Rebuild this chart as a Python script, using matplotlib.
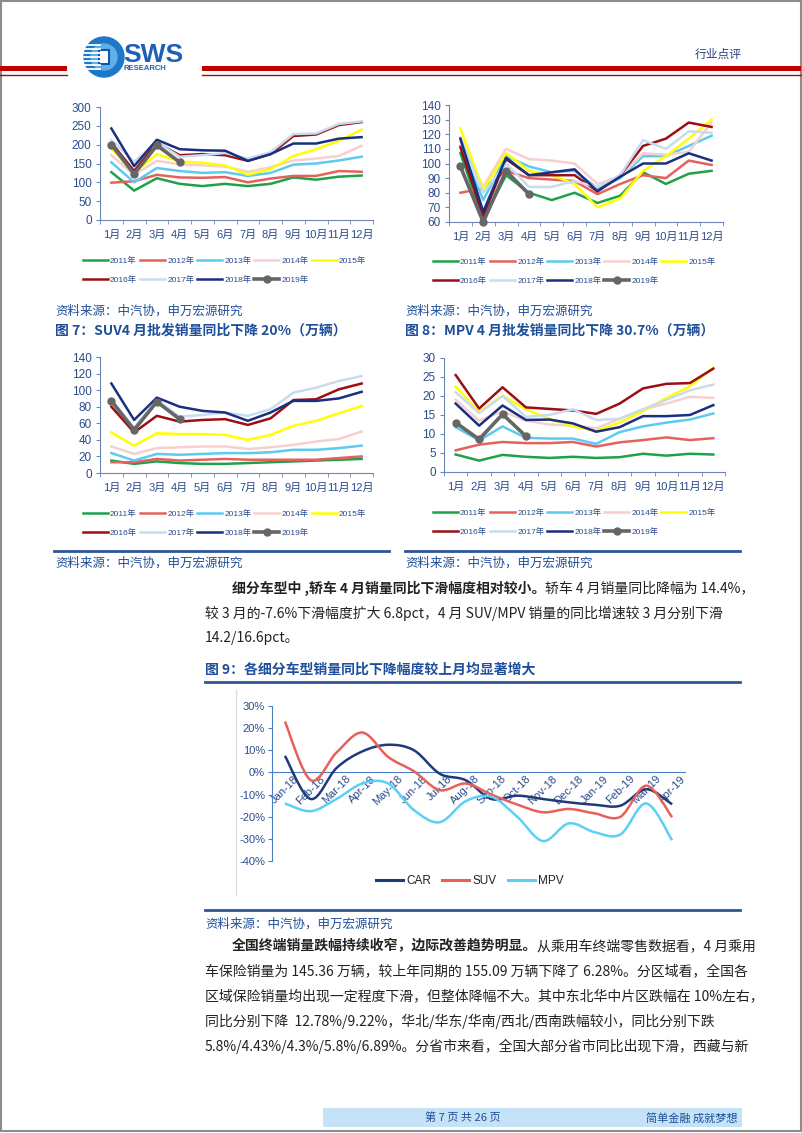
import matplotlib
matplotlib.use("Agg")
import matplotlib.pyplot as plt
import numpy as np
from matplotlib.lines import Line2D
from matplotlib.patches import Rectangle, Circle, PathPatch
from matplotlib.path import Path

W, H = 802, 1133
plt.rcParams['font.family'] = ['Liberation Sans', 'Noto Sans CJK SC', 'DejaVu Sans']
CJK = ['Noto Sans CJK SC', 'DejaVu Sans']

months = ['1月', '2月', '3月', '4月', '5月', '6月', '7月', '8月', '9月', '10月', '11月', '12月']
years = ['2011年', '2012年', '2013年', '2014年', '2015年', '2016年', '2017年', '2018年', '2019年']
year_colors = ['#1FA14A', '#E4615D', '#5DCBF0', '#F6CFCF', '#FFFF00',
               '#9B0E14', '#C9DCEF', '#1A2F80', '#666666']

# passenger vehicles (top left), 万辆
pv_2011 = [127, 78, 111, 96, 90, 96, 90, 96, 113, 107, 115, 118]
pv_2012 = [99, 103, 120, 113, 112, 114, 100, 110, 117, 117, 130, 128]
pv_2013 = [153, 100, 138, 130, 125, 127, 117, 125, 147, 150, 158, 168]
pv_2014 = [172, 120, 157, 148, 145, 142, 128, 140, 158, 163, 170, 197]
pv_2015 = [190, 125, 175, 155, 152, 145, 120, 135, 170, 188, 210, 240]
pv_2016 = [205, 130, 205, 172, 175, 172, 157, 175, 223, 227, 252, 260]
pv_2017 = [212, 155, 207, 168, 172, 178, 163, 180, 228, 230, 255, 262]
pv_2018 = [243, 143, 213, 188, 185, 184, 157, 175, 203, 203, 216, 220]
pv_2019 = [200, 122, 198, 154]

# sedans (top right)
sedan_2011 = [107, 62, 92, 80, 75, 80, 73, 78, 94, 86, 93, 95]
sedan_2012 = [80, 83, 95, 90, 89, 88, 79, 86, 92, 90, 102, 99]
sedan_2013 = [112, 75, 105, 98, 94, 95, 83, 90, 105, 105, 112, 119]
sedan_2014 = [115, 84, 110, 103, 102, 100, 86, 91, 107, 106, 108, 128]
sedan_2015 = [124, 82, 107, 95, 92, 86, 70, 76, 95, 105, 117, 130]
sedan_2016 = [111, 64, 103, 92, 92, 92, 81, 92, 112, 117, 128, 125]
sedan_2017 = [118, 80, 100, 84, 84, 88, 84, 92, 116, 110, 122, 121]
sedan_2018 = [117, 67, 104, 92, 94, 96, 81, 91, 100, 100, 107, 102]
sedan_2019 = [98, 60, 95, 79]

# SUV (fig 7)
suv_2011 = [15, 11, 14, 12, 11, 11, 12, 13, 14, 15, 16, 17]
suv_2012 = [13, 13, 17, 15, 16, 17, 16, 16, 16, 16, 18, 20]
suv_2013 = [24, 15, 23, 22, 23, 24, 24, 25, 28, 28, 30, 33]
suv_2014 = [32, 23, 30, 31, 32, 32, 29, 31, 34, 38, 41, 50]
suv_2015 = [49, 33, 48, 47, 47, 46, 40, 46, 57, 63, 72, 81]
suv_2016 = [80, 49, 69, 62, 64, 65, 58, 66, 88, 89, 101, 108]
suv_2017 = [88, 55, 88, 68, 70, 73, 69, 77, 97, 103, 111, 117]
suv_2018 = [108, 64, 91, 80, 75, 73, 63, 73, 87, 87, 90, 98]
suv_2019 = [87, 52, 86, 65]

# MPV (fig 8)
mpv_2011 = [4.6, 3.0, 4.5, 4.0, 3.7, 4.0, 3.7, 3.9, 4.8, 4.3, 4.8, 4.6]
mpv_2012 = [5.7, 7.2, 7.9, 7.6, 7.6, 7.9, 6.7, 7.8, 8.4, 9.1, 8.4, 8.9]
mpv_2013 = [11.8, 8.3, 12.0, 9.0, 8.8, 8.8, 7.4, 10.5, 12.0, 13.0, 13.8, 15.4]
mpv_2014 = [19.0, 13.5, 16.0, 13.5, 12.5, 12.2, 11.5, 14.0, 16.5, 18.0, 19.8, 19.5]
mpv_2015 = [22.5, 15.8, 20.1, 16.5, 14.0, 12.0, 10.8, 13.0, 16.0, 19.5, 22.5, 27.5]
mpv_2016 = [25.5, 16.7, 22.3, 17.0, 16.6, 16.2, 15.3, 18.0, 22.0, 23.2, 23.4, 27.2]
mpv_2017 = [21.0, 15.5, 20.0, 14.5, 15.0, 16.5, 13.7, 14.0, 16.5, 19.0, 21.5, 23.0]
mpv_2018 = [18.0, 12.2, 17.5, 13.7, 13.8, 12.8, 10.6, 11.8, 14.7, 14.7, 15.0, 17.6]
mpv_2019 = [13.0, 8.6, 15.2, 9.4]

# fig 9: yoy growth by segment, %
yoy_months = ['Jan-18', 'Feb-18', 'Mar-18', 'Apr-18', 'May-18', 'Jun-18', 'Jul-18', 'Aug-18',
              'Sep-18', 'Oct-18', 'Nov-18', 'Dec-18', 'Jan-19', 'Feb-19', 'Mar-19', 'Apr-19']
car_yoy = [7.5, -12, 2, 9.5, 12.5, 10, -0.6, -3.5, -12, -10.5, -12, -13.5, -14.6, -15, -7.6, -14.4]
suv_yoy = [23, -3.5, 9, 18, 7, 0.5, -8, -5, -10, -14.5, -18, -16.5, -18.5, -20, -6, -20.2]
mpv_yoy = [-14, -17.5, -12, -5, -5, -17, -22.5, -13, -11, -20, -31, -23, -27, -28, -14, -30.6]

SPINE = '#6A86B8'
TICK = '#2B4C8C'
BLUE = '#1F4E9A'
TEXT = '#222222'

fig = plt.figure(figsize=(W / 100, H / 100), dpi=100)
page = fig.add_axes([0, 0, 1, 1])
page.set_xlim(0, W)
page.set_ylim(H, 0)
page.axis('off')


def px_axes(left, top, right, bottom):
    return fig.add_axes([left / W, 1 - bottom / H, (right - left) / W, (bottom - top) / H])


def year_chart(box, series, ylim, yticks, legend_xy):
    ax = px_axes(*box)
    ax.set_facecolor('none')
    x = np.arange(12)
    handles = []
    for vals, color, label in zip(series, year_colors, years):
        if label == '2019年':
            h, = ax.plot(x[:len(vals)], vals, color=color, lw=2.6, marker='o', ms=5,
                         label=label, zorder=5, clip_on=False)
        else:
            h, = ax.plot(x[:len(vals)], vals, color=color, lw=1.8, label=label)
        handles.append(h)
    ax.set_xlim(-0.5, 11.5)
    ax.set_ylim(*ylim)
    ax.set_yticks(yticks)
    ax.set_xticks(x)
    ax.set_xticklabels(months)
    ax.set_xticks(np.arange(-0.5, 12, 1), minor=True)
    for s in ['top', 'right']:
        ax.spines[s].set_visible(False)
    for s in ['left', 'bottom']:
        ax.spines[s].set_color(SPINE)
    ax.tick_params(axis='x', which='major', length=0, pad=7, labelsize=8, labelcolor=TICK)
    ax.tick_params(axis='x', which='minor', length=3, color=SPINE)
    ax.tick_params(axis='y', length=3, color=SPINE, pad=3, labelsize=8.5, labelcolor=TICK)
    # row-major order for a 5-column legend
    order = [0, 5, 1, 6, 2, 7, 3, 8, 4]
    leg = fig.legend([handles[i] for i in order], [years[i] for i in order],
                     loc='upper left', bbox_to_anchor=(legend_xy[0] / W, 1 - legend_xy[1] / H),
                     ncol=5, frameon=False, fontsize=6, handlelength=3.0, handletextpad=0.25,
                     columnspacing=0.35, labelspacing=1.3, borderpad=0, borderaxespad=0)
    for t in leg.get_texts():
        t.set_color(TICK)
    return ax


# ---------- page furniture ----------
page.add_patch(Rectangle((0.5, 0.5), W - 1.5, H - 2.5, fill=False, ec='#8C8C8C', lw=1.5))
page.add_patch(Rectangle((0, 65.5), 67, 5.5, color='#C00000', lw=0))
page.add_patch(Rectangle((202, 65.5), W - 203, 5.5, color='#C00000', lw=0))
page.plot([0, 67], [74.5, 74.5], color='#C00000', lw=1)
page.plot([202, W - 1], [74.5, 74.5], color='#C00000', lw=1)
page.add_patch(Circle((104, 57), 20, color='#1E78C8'))
page.add_patch(Circle((104, 57), 13, color='#5FB0EA'))
for yy in np.arange(45, 72, 4):
    page.plot([84, 100], [yy, yy], color='white', lw=1.3)
page.add_patch(Rectangle((99, 50), 10, 14, fc='white', ec='#0F5AA8', lw=1.5))
page.text(123, 55, 'SWS', fontsize=19, weight='bold', color='#1F5FB5', va='center', ha='left')
page.text(124, 69, 'RESEARCH', fontsize=5.5, weight='bold', color='#1F5FB5', va='center', ha='left')
page.text(718, 54, '行业点评', fontsize=8.5, color='#2B3F7F', va='center', ha='center', family=CJK)

# ---------- four small charts ----------
year_chart((100, 107, 373, 220),
           [pv_2011, pv_2012, pv_2013, pv_2014, pv_2015, pv_2016, pv_2017, pv_2018, pv_2019],
           (0, 300), np.arange(0, 301, 50), (83, 257))
year_chart((449, 105, 723, 222),
           [sedan_2011, sedan_2012, sedan_2013, sedan_2014, sedan_2015, sedan_2016, sedan_2017,
            sedan_2018, sedan_2019],
           (60, 140), np.arange(60, 141, 10), (433, 258))
year_chart((100, 357, 373, 473),
           [suv_2011, suv_2012, suv_2013, suv_2014, suv_2015, suv_2016, suv_2017, suv_2018, suv_2019],
           (0, 140), np.arange(0, 141, 20), (83, 510))
year_chart((444, 358, 725, 472),
           [mpv_2011, mpv_2012, mpv_2013, mpv_2014, mpv_2015, mpv_2016, mpv_2017, mpv_2018, mpv_2019],
           (0, 30), np.arange(0, 31, 5), (433, 509))

for x0 in (55, 405):
    page.text(x0, 311, '资料来源：中汽协，申万宏源研究', fontsize=9, color=BLUE, va='center', family=CJK)
    page.text(x0, 563, '资料来源：中汽协，申万宏源研究', fontsize=9, color=BLUE, va='center', family=CJK)
page.text(55, 331, '图 7：SUV4 月批发销量同比下降 20%（万辆）', fontsize=10, weight='bold',
          color=BLUE, va='center', family=CJK)
page.text(405, 331, '图 8：MPV 4 月批发销量同比下降 30.7%（万辆）', fontsize=10, weight='bold',
          color=BLUE, va='center', family=CJK)
page.plot([54, 389], [551, 551], color='#2E5597', lw=2)
page.plot([405, 740], [551, 551], color='#2E5597', lw=2)

renderer = fig.canvas.get_renderer()


def put_line(x, y, parts):
    for s, bold in parts:
        t = page.text(x, y, s, fontsize=10, family=CJK, weight='bold' if bold else 'normal',
                      va='center', ha='left', color=TEXT)
        x = t.get_window_extent(renderer=renderer).x1


put_line(232, 588, [('细分车型中 ,轿车 4 月销量同比下滑幅度相对较小。', True),
                    ('轿车 4 月销量同比降幅为 14.4%，', False)])
put_line(205, 613, [('较 3 月的-7.6%下滑幅度扩大 6.8pct，4 月 SUV/MPV 销量的同比增速较 3 月分别下滑', False)])
put_line(205, 638, [('14.2/16.6pct。', False)])

page.text(205, 670, '图 9：各细分车型销量同比下降幅度较上月均显著增大', fontsize=10, weight='bold',
          color=BLUE, va='center', family=CJK)
page.plot([205, 740], [682, 682], color='#2E5597', lw=2)
page.plot([236, 236], [690, 895], color='#DDDDDD', lw=1)

# ---------- fig 9 ----------
ax9 = px_axes(272, 706, 685, 861)
ax9.set_facecolor('none')


def smooth_path(xs, ys):
    pts = np.column_stack([xs, ys]).astype(float)
    n = len(pts)
    verts = [pts[0]]
    codes = [Path.MOVETO]
    for i in range(n - 1):
        p0 = pts[i - 1] if i > 0 else pts[i]
        p1, p2 = pts[i], pts[i + 1]
        p3 = pts[i + 2] if i + 2 < n else pts[i + 1]
        verts += [p1 + (p2 - p0) / 6, p2 - (p3 - p1) / 6, p2]
        codes += [Path.CURVE4] * 3
    return Path(verts, codes)


xi = np.arange(len(yoy_months))
seg_series = [('CAR', car_yoy, '#1F3A7A'), ('SUV', suv_yoy, '#E8605A'), ('MPV', mpv_yoy, '#5CCFF5')]
handles9 = []
for name, vals, color in seg_series:
    ax9.add_patch(PathPatch(smooth_path(xi, vals), fill=False, ec=color, lw=1.8, zorder=3))
    handles9.append(Line2D([], [], color=color, lw=2.2, label=name))
ax9.set_xlim(-0.5, len(yoy_months) - 0.5)
ax9.set_ylim(-40, 30)
ax9.set_yticks(np.arange(-40, 31, 10))
ax9.set_yticklabels([f'{v}%' for v in np.arange(-40, 31, 10)])
ax9.set_xticks(xi)
ax9.set_xticklabels(yoy_months)
ax9.spines['bottom'].set_position(('data', 0))
for s in ['top', 'right']:
    ax9.spines[s].set_visible(False)
for s in ['left', 'bottom']:
    ax9.spines[s].set_color('#4A7EC7')
ax9.tick_params(axis='x', length=0, pad=1, labelsize=8, labelcolor=TICK, labelrotation=45)
ax9.tick_params(axis='y', length=3, color='#4A7EC7', pad=2, labelsize=8, labelcolor=TICK)
leg9 = fig.legend(handles=handles9, loc='center', bbox_to_anchor=(470 / W, 1 - 881 / H), ncol=3,
                  frameon=False, fontsize=8.5, handlelength=2.3, handletextpad=0.3,
                  columnspacing=0.9, borderpad=0)
for t in leg9.get_texts():
    t.set_color(TEXT)

page.plot([205, 740], [910, 910], color='#2E5597', lw=2)
page.text(205, 924, '资料来源：中汽协，申万宏源研究', fontsize=9, color=BLUE, va='center', family=CJK)

put_line(232, 946, [('全国终端销量跌幅持续收窄，边际改善趋势明显。', True),
                    ('从乘用车终端零售数据看，4 月乘用', False)])
put_line(205, 971, [('车保险销量为 145.36 万辆，较上年同期的 155.09 万辆下降了 6.28%。分区域看，全国各', False)])
put_line(205, 996, [('区域保险销量均出现一定程度下滑，但整体降幅不大。其中东北华中片区跌幅在 10%左右，', False)])
put_line(205, 1021, [('同比分别下降  12.78%/9.22%，华北/华东/华南/西北/西南跌幅较小，同比分别下跌', False)])
put_line(205, 1046, [('5.8%/4.43%/4.3%/5.8%/6.89%。分省市来看，全国大部分省市同比出现下滑，西藏与新', False)])

# ---------- footer ----------
page.add_patch(Rectangle((323, 1108), 419, 19, color='#C5E3F6', lw=0))
page.text(463, 1118, '第 7 页 共 26 页', fontsize=8, color=BLUE, va='center', ha='center', family=CJK)
page.text(738, 1118, '简单金融 成就梦想', fontsize=8, color=BLUE, va='center', ha='right', family=CJK)

fig.savefig('out.png', dpi=100)
